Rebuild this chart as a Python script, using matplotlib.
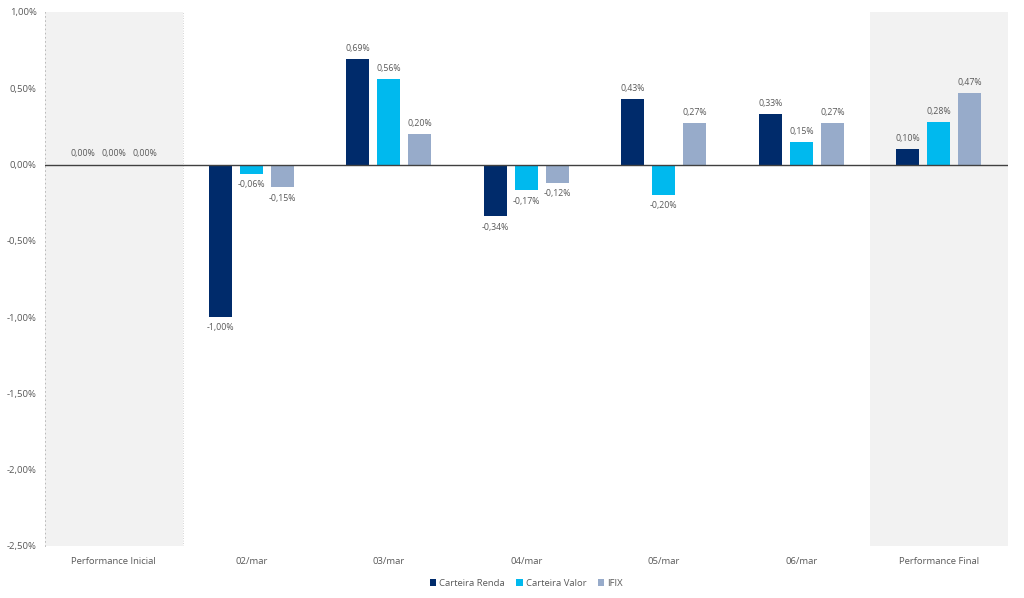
import matplotlib
matplotlib.use("Agg")
import matplotlib.pyplot as plt
import numpy as np

plt.rcParams['font.family'] = ['Open Sans', 'DejaVu Sans']

categories = ["Performance Inicial", "02/mar", "03/mar", "04/mar", "05/mar", "06/mar", "Performance Final"]
renda = [0.00, -1.00, 0.69, -0.34, 0.43, 0.33, 0.10]
valor = [0.00, -0.06, 0.56, -0.17, -0.20, 0.15, 0.28]
ifix = [0.00, -0.15, 0.20, -0.12, 0.27, 0.27, 0.47]
series_names = ["Carteira Renda", "Carteira Valor", "IFIX"]
colors = ["#002B6B", "#00B9EE", "#97ABCA"]
yticks = [1.0, 0.5, 0.0, -0.5, -1.0, -1.5, -2.0, -2.5]

txt = "#595959"

fig = plt.figure(figsize=(10.24, 5.98), dpi=100)
ax = fig.add_axes([0.044, 0.087, 0.940, 0.893])

x = np.arange(len(categories))
width = 0.167
step = 0.225

# shaded first and last category
ax.axvspan(-0.5, 0.5, color="#F2F2F2", zorder=0, lw=0)
ax.axvspan(5.5, 6.5, color="#F2F2F2", zorder=0, lw=0)
ax.axvline(0.5, color="#C8C8C8", lw=0.6, ls=(0, (1, 2)), zorder=0.5)
ax.axvline(6.5, color="#A0A0A0", lw=0.6, ls=(0, (1, 2)), zorder=0.5)

for i, (vals, name, c) in enumerate(zip([renda, valor, ifix], series_names, colors)):
    pos = x + (i - 1) * step
    ax.bar(pos, vals, width, color=c, label=name, zorder=2)
    for p, v in zip(pos, vals):
        lab = ("%.2f%%" % v).replace(".", ",")
        if v >= 0:
            ax.text(p, v + 0.04, lab, ha="center", va="bottom", fontsize=6.3, color=txt)
        else:
            ax.text(p, v - 0.04, lab, ha="center", va="top", fontsize=6.3, color=txt)

ax.axhline(0, color="#404040", lw=1.0, zorder=3)

ax.set_xlim(-0.5, 6.5)
ax.set_ylim(-2.5, 1.0)
ax.set_yticks(yticks)
ax.set_yticklabels([("%.2f%%" % t).replace(".", ",") for t in yticks], fontsize=6.8, color=txt)
ax.set_xticks(x)
ax.set_xticklabels(categories, fontsize=6.8, color=txt)
ax.tick_params(axis="x", length=0, pad=8)
ax.tick_params(axis="y", length=0, pad=6)

for s in ["top", "right", "bottom"]:
    ax.spines[s].set_visible(False)
ax.spines["left"].set_color("#B0B0B0")
ax.spines["left"].set_linewidth(0.6)
ax.spines["left"].set_linestyle((0, (1, 4)))

leg = ax.legend(loc="upper center", bbox_to_anchor=(0.5, -0.045), ncol=3, frameon=False,
                fontsize=6.8, handlelength=0.7, handleheight=0.7, handletextpad=0.3, columnspacing=1.2)
for t in leg.get_texts():
    t.set_color(txt)

fig.savefig("out.png", dpi=100)
